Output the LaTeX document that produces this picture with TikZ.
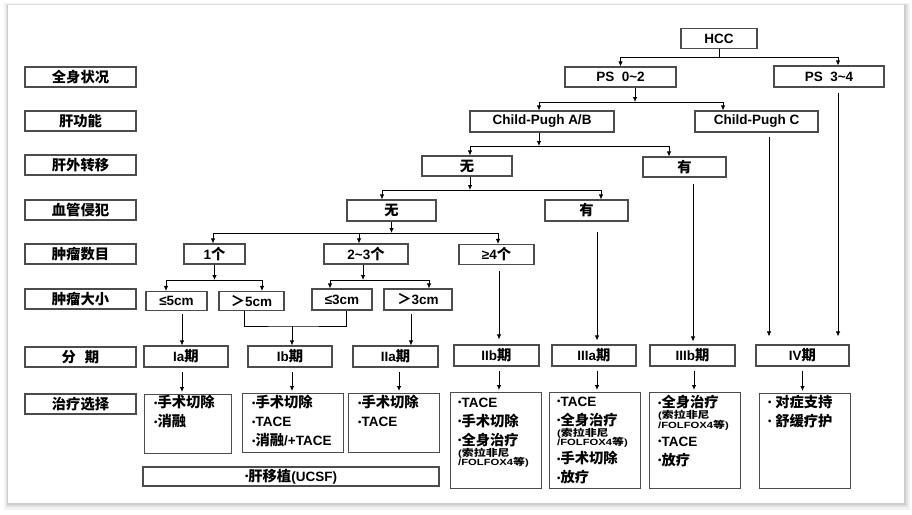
\documentclass[tikz,border=0pt]{standalone}
\usepackage{fontspec}
\usepackage{graphicx}
\setmainfont{Liberation Sans}
\newfontfamily\zhfont{Noto Sans CJK SC}[Scale=1.06]
\usetikzlibrary{arrows.meta}

\newcommand\zh[1]{{\zhfont#1}}
\newcommand\tld{\textasciitilde}
\newcommand\fs{\fontsize{13.5}{19}\selectfont\bfseries}
\newcommand\bul{\raisebox{1.5pt}{\fontsize{9.5}{9.5}\selectfont •}}
\newcommand\st{\rule{0pt}{12pt}}
\newcommand\sm[1]{\scalebox{1.25}[1]{\fontsize{9}{10}\selectfont#1}}

\begin{document}
\begin{tikzpicture}[x=1pt,y=-1pt,>={Latex[length=5pt,width=4.5pt]},
    box/.style={draw=black!70,line width=1.1pt,minimum height=20pt,inner sep=1pt,font=\fs},
    hd/.style={box,minimum width=111pt},
    sg/.style={box,minimum height=21pt},
    tbox/.style={box,anchor=north west},
    tx/.style={anchor=north west,align=left,inner sep=0pt,font=\fs},
    ln/.style={line width=0.8pt},
    ar/.style={ln,->}]
  \useasboundingbox (0,0) rectangle (912,514);
  % card and its shadow
  \fill[black,opacity=0.05] (4,3) rectangle (910,510);
  \fill[black,opacity=0.07] (5.5,4) rectangle (908,507);
  \fill[black,opacity=0.09] (7,4.5) rectangle (906,505);
  \fill[white] (8,5) rectangle (904,503);

  % row titles
  \node[hd] (qs) at (80.5,77) {\zh{全身状况}};
  \node[hd] (gg) at (80.5,121) {\zh{肝功能}};
  \node[hd] (gw) at (80.5,165) {\zh{肝外转移}};
  \node[hd] (xg) at (80.5,210) {\zh{血管侵犯}};
  \node[hd] (sm) at (80.5,254) {\zh{肿瘤数目}};
  \node[hd] (dx) at (80.5,299) {\zh{肿瘤大小}};
  \node[hd] (fq) at (80.5,357) {\zh{分\hspace{9pt}期}};
  \node[hd] (zl) at (80.5,404) {\zh{治疗选择}};

  % decision tree
  \node[box,minimum width=76pt] (hcc) at (719,38.5) {HCC};
  \node[box,minimum width=111pt] (psa) at (620.5,77) {PS\ \ 0\tld2};
  \node[sg,minimum width=110pt] (psb) at (829,76.5) {PS\ \ 3\tld4};
  \node[sg,minimum width=144pt] (cpab) at (542,121.5) {Child-Pugh A/B};
  \node[sg,minimum width=123pt] (cpc) at (756.5,121.5) {Child-Pugh C};
  \node[box,minimum width=90pt] (noa) at (467,166) {\zh{无}};
  \node[box,minimum width=83pt] (yesa) at (684.5,167) {\zh{有}};
  \node[sg,minimum width=89pt] (nob) at (391.5,210.5) {\zh{无}};
  \node[sg,minimum width=83pt] (yesb) at (586.5,210.5) {\zh{有}};
  \node[box,minimum width=61pt] (one) at (214.5,254) {1\zh{个}};
  \node[box,minimum width=84pt] (two) at (366,254) {2\tld3\zh{个}};
  \node[box,minimum width=75pt] (four) at (496.5,254.5) {≥4\zh{个}};
  \node[box,minimum width=61pt,minimum height=19pt] (le5) at (176.5,301) {≤5cm};
  \node[box,minimum width=65pt,minimum height=19pt] (gt5) at (251.5,301) {\zh{＞}5cm};
  \node[sg,minimum width=60pt] (le3) at (342,299.5) {≤3cm};
  \node[sg,minimum width=68pt] (gt3) at (418,299.5) {\zh{＞}3cm};

  % stages
  \node[sg,minimum width=84pt] (sia) at (186,356.5) {Ia\zh{期}};
  \node[sg,minimum width=84pt] (sib) at (290,356.5) {Ib\zh{期}};
  \node[sg,minimum width=85pt] (siia) at (395.5,356.5) {IIa\zh{期}};
  \node[sg,minimum width=85pt] (siib) at (496.5,355.5) {IIb\zh{期}};
  \node[sg,minimum width=84pt] (siiia) at (594,355.5) {IIIa\zh{期}};
  \node[sg,minimum width=85pt] (siiib) at (692.5,355.5) {IIIb\zh{期}};
  \node[sg,minimum width=93pt] (siv) at (802.5,355.5) {IV\zh{期}};

  % treatments
  \node[tbox,minimum width=87pt,minimum height=59pt] (tia) at (144,394) {};
  \node[tbox,minimum width=101pt,minimum height=59pt] (tib) at (242,393) {};
  \node[tbox,minimum width=91pt,minimum height=59pt] (tiia) at (348,393) {};
  \node[tbox,minimum width=91pt,minimum height=96pt] (tiib) at (450,392) {};
  \node[tbox,minimum width=91pt,minimum height=96pt] (tiiia) at (549,392) {};
  \node[tbox,minimum width=91pt,minimum height=96pt] (tiiib) at (649,392) {};
  \node[tbox,minimum width=91pt,minimum height=95pt] (tiv) at (759,393) {};
  \node[box,minimum width=296pt,minimum height=19pt] (ucsf) at (291,476.5) {\bul\zh{肝移植}(UCSF)};

  \node[tx] (xia) at ([shift={(10,1)}]tia.north west)
    {\st\bul\zh{手术切除}\\ \bul\zh{消融}};
  \node[tx] (xib) at ([shift={(10,2)}]tib.north west)
    {\st\bul\zh{手术切除}\\ \bul TACE\\ \bul\zh{消融}/+TACE};
  \node[tx] (xiia) at ([shift={(10,2)}]tiia.north west)
    {\st\bul\zh{手术切除}\\ \bul TACE};
  \node[tx] (xiib) at ([shift={(8,3)}]tiib.north west)
    {\st\bul TACE\\ \bul\zh{手术切除}\\ \bul\zh{全身治疗}\\[-8pt]
     \sm{(\zh{索拉非尼}}\\[-9.5pt] \sm{/FOLFOX4\zh{等})}};
  \node[tx] (xiiia) at ([shift={(8,2)}]tiiia.north west)
    {\st\bul TACE\\ \bul\zh{全身治疗}\\[-8pt] \sm{(\zh{索拉非尼}}\\[-9.5pt]
     \sm{/FOLFOX4\zh{等})}\\[-1pt] \bul\zh{手术切除}\\ \bul\zh{放疗}};
  \node[tx] (xiiib) at ([shift={(9,3)}]tiiib.north west)
    {\st\bul\zh{全身治疗}\\[-8pt] \sm{(\zh{索拉非尼}}\\[-9.5pt]
     \sm{/FOLFOX4\zh{等})}\\[-1pt] \bul TACE\\ \bul\zh{放疗}};
  \node[tx] (xiv) at ([shift={(9,2)}]tiv.north west)
    {\st\bul\ \zh{对症支持}\\ \bul\ \zh{舒缓疗护}};

  % connectors
  \coordinate (j0) at (719,57);
  \draw[ln] (hcc.south) -- (j0);
  \draw[ar] (j0) -| (psa.north);
  \draw[ar] (j0) -| ([xshift=9pt]psb.north);
  \coordinate (j1) at (635,102);
  \draw[ar] ([xshift=14.5pt]psa.south) -- (j1);
  \draw[ar] (j1) -| ([xshift=-3pt]cpab.north);
  \draw[ar] (j1) -| ([xshift=-33.5pt]cpc.north);
  \coordinate (j2) at (539,146);
  \draw[ar] ([xshift=-3pt]cpab.south) -- (j2);
  \draw[ar] (j2) -| ([xshift=3pt]noa.north);
  \draw[ar] (j2) -| ([xshift=-15.5pt]yesa.north);
  \coordinate (j3) at (470,190);
  \draw[ar] ([xshift=3pt]noa.south) -- (j3);
  \draw[ar] (j3) -| ([xshift=-9.5pt]nob.north);
  \draw[ar] (j3) -| ([xshift=14.5pt]yesb.north);
  \coordinate (j4) at (391.5,233);
  \draw[ar] (nob.south) -- (j4);
  \draw[ar] (j4) -| ([xshift=-1.5pt]one.north);
  \draw[ar] (j4) -| ([xshift=-7pt]two.north);
  \draw[ar] (j4) -| ([xshift=1.5pt]four.north);
  \coordinate (j5) at (214.5,280);
  \draw[ar] (one.south) -- (j5);
  \draw[ar] (j5) -| ([xshift=-10.5pt]le5.north);
  \draw[ar] (j5) -| ([xshift=10.5pt]gt5.north);
  \coordinate (j6) at (363,280);
  \draw[ar] ([xshift=-3pt]two.south) -- (j6);
  \draw[ar] (j6) -| ([xshift=-12pt]le3.north);
  \draw[ar] (j6) -| ([xshift=11pt]gt3.north);

  % sizes to stages
  \draw[ar,shorten <=3pt] ([xshift=5.5pt]le5.south) -- ([xshift=5.5pt]le5.south |- sia.north);
  \coordinate (j7) at (292,326);
  \draw[ln] ([xshift=-7.5pt]gt5.south) |- (j7) -| ([xshift=4pt]le3.south);
  \draw[ar] (j7) -- (j7 |- sib.north);
  \draw[ar,shorten <=3pt] ([xshift=-7pt]gt3.south) -- ([xshift=-7pt]gt3.south |- siia.north);
  \draw[ar,shorten <=6pt,shorten >=5pt] ([xshift=2.5pt]four.south) -- ([xshift=2.5pt]four.south |- siib.north);
  \draw[ar,shorten <=10pt,shorten >=4pt] ([xshift=10.5pt]yesb.south) -- ([xshift=10.5pt]yesb.south |- siiia.north);
  \draw[ar,shorten <=6pt,shorten >=3pt] ([xshift=8.5pt]yesa.south) -- ([xshift=8.5pt]yesa.south |- siiib.north);
  \draw[ar,shorten <=4pt,shorten >=8pt] ([xshift=12.5pt]cpc.south) -- ([xshift=12.5pt]cpc.south |- siv.north);
  \draw[ar,shorten <=5pt,shorten >=8pt] ([xshift=9pt]psb.south) -- ([xshift=9pt]psb.south |- siv.north);

  % stages to treatments
  \draw[ar,shorten <=4pt,shorten >=2pt] ([xshift=-4pt]sia.south) -- ([xshift=-4pt]sia.south |- tia.north);
  \draw[ar,shorten <=4pt,shorten >=2pt] ([xshift=2pt]sib.south) -- ([xshift=2pt]sib.south |- tib.north);
  \draw[ar,shorten <=4pt,shorten >=2pt] ([xshift=3.5pt]siia.south) -- ([xshift=3.5pt]siia.south |- tiia.north);
  \draw[ar,shorten <=4pt,shorten >=2pt] ([xshift=2.5pt]siib.south) -- ([xshift=2.5pt]siib.south |- tiib.north);
  \draw[ar,shorten <=4pt,shorten >=2pt] ([xshift=3pt]siiia.south) -- ([xshift=3pt]siiia.south |- tiiia.north);
  \draw[ar,shorten <=4pt,shorten >=2pt] ([xshift=1.5pt]siiib.south) -- ([xshift=1.5pt]siiib.south |- tiiib.north);
  \draw[ar,shorten <=4pt,shorten >=2pt] (siv.south) -- (siv.south |- tiv.north);
\end{tikzpicture}
\end{document}
